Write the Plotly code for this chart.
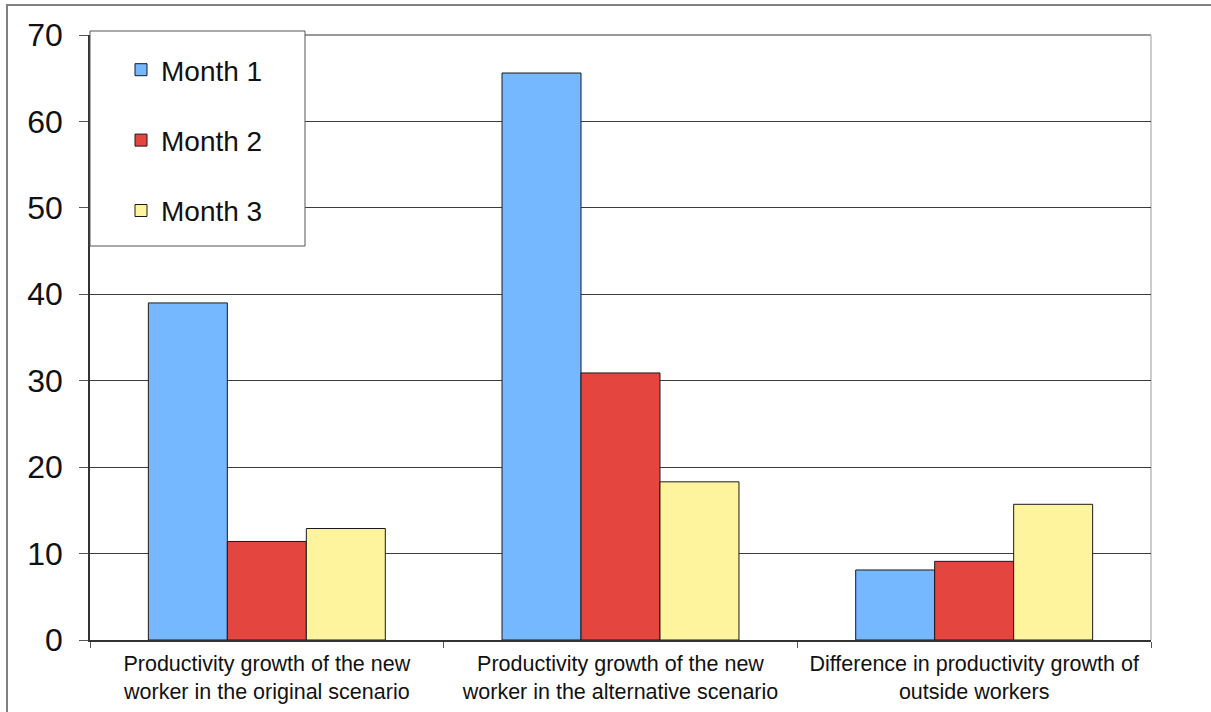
import plotly.graph_objects as go

# Chart data
categories = [
    "Productivity growth of the new<br>worker in the original scenario",
    "Productivity growth of the new<br>worker in the alternative scenario",
    "Difference in productivity growth of<br>outside workers",
]
series_names = ["Month 1", "Month 2", "Month 3"]
month1 = [39.0, 65.6, 8.1]
month2 = [11.4, 30.9, 9.1]
month3 = [12.9, 18.3, 15.7]
y_ticks = [0, 10, 20, 30, 40, 50, 60, 70]

colors = ["#76B8FF", "#E4453F", "#FFF49E"]
FONT = "Arial, Liberation Sans, sans-serif"

W, H = 1211, 712
L, R, T, B = 90, 60, 35, 72
pw, ph = W - L - R, H - T - B


def px_x(px):
    return (px - L) / pw


def px_y(py):
    return (H - B - py) / ph


fig = go.Figure()
for i, (name, vals) in enumerate(zip(series_names, [month1, month2, month3])):
    fig.add_trace(go.Bar(
        x=categories, y=vals, name=name,
        legendgroup=name,
        marker=dict(color=colors[i], line=dict(color="#1a1a1a", width=1)),
    ))

shapes = [
    # outer frame
    dict(type="rect", xref="paper", yref="paper",
         x0=px_x(7), x1=px_x(1300), y0=px_y(800), y1=px_y(5),
         line=dict(color="#808080", width=2), fillcolor="rgba(0,0,0,0)", layer="below"),
    # plot frame top / right
    dict(type="line", xref="paper", yref="paper", x0=0, x1=1, y0=1, y1=1,
         line=dict(color="#777777", width=1.5), layer="below"),
    dict(type="line", xref="paper", yref="paper", x0=1, x1=1, y0=0, y1=1,
         line=dict(color="#bdbdbd", width=1.5), layer="below"),
    # legend box
    dict(type="rect", xref="paper", yref="paper",
         x0=0, x1=px_x(305), y0=px_y(246), y1=px_y(31),
         line=dict(color="#555555", width=1), fillcolor="white", layer="above"),
]

fig.update_layout(
    width=W, height=H,
    margin=dict(l=L, r=R, t=T, b=B, pad=0, autoexpand=False),
    paper_bgcolor="white", plot_bgcolor="white",
    barmode="group", bargap=0.33, bargroupgap=0,
    font=dict(family=FONT, color="#111111"),
    showlegend=True,
    legend=dict(
        x=px_x(121), y=px_y(45), xanchor="left", yanchor="top",
        bgcolor="rgba(0,0,0,0)", borderwidth=0,
        font=dict(size=28, family=FONT, color="#111111"),
        traceorder="grouped", tracegroupgap=31,
        itemclick=False,
    ),
    shapes=shapes,
    xaxis=dict(
        automargin=False,
        showline=True, linecolor="#333333", linewidth=1.5,
        ticks="outside", tickson="boundaries", ticklen=6, tickcolor="#555555",
        ticklabelstandoff=3,
        tickfont=dict(size=21.5, family=FONT, color="#111111"),
        showgrid=False,
    ),
    yaxis=dict(
        automargin=False,
        range=[0, 70], tickvals=y_ticks,
        showline=True, linecolor="#333333", linewidth=1.5,
        ticks="outside", ticklen=9, tickcolor="#555555",
        ticklabelstandoff=10,
        tickfont=dict(size=32, family=FONT, color="#111111"),
        showgrid=True, gridcolor="#3c3c3c", gridwidth=1,
        zeroline=False,
    ),
)

fig.write_html("out.html")
